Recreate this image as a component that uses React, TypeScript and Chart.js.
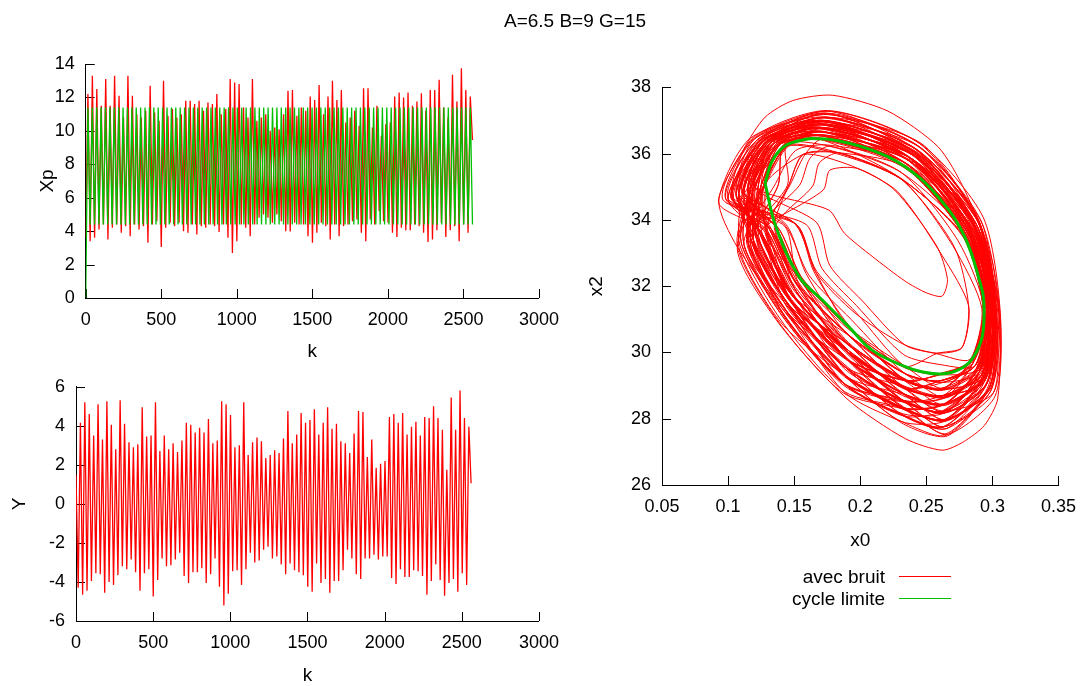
import React, { useEffect, useRef } from 'react';
import { Chart, registerables } from 'chart.js';

Chart.register(...registerables);

// ---------------- DATA ----------------
const TITLE_TEXT = 'A=6.5 B=9 G=15';
const K_LAST = 2560;

// Xp (noisy) : successive minima and maxima of each oscillation
const xpNoisyTroughs = [
  3.6, 3.4, 3.6, 4.1, 4.4, 3.5, 4.2, 4.4, 3.9, 4.3,
  3.7, 4.4, 4.1, 4.3, 3.3, 4.4, 4.6, 3.05, 4.2, 4.5,
  4.3, 4.5, 4.0, 3.9, 4.4, 3.8, 4.3, 4.2, 4.4, 4.3,
  3.95, 4.4, 3.6, 2.7, 3.4, 4.4, 4.2, 3.7, 4.4, 4.8,
  5.0, 4.8, 4.5, 5.0, 4.6, 4.0, 3.98, 4.5, 4.4, 4.4,
  3.7, 3.3, 3.9, 4.5, 4.3, 3.5, 4.4, 3.7, 4.3, 4.4,
  4.6, 4.7, 3.9, 3.4, 4.7, 4.4, 5.2, 4.6, 4.5, 3.9,
  3.65, 4.2, 4.05, 4.05, 4.4, 4.3, 3.9, 3.35, 3.5, 4.05,
  4.5, 3.65, 4.05, 4.3, 3.4, 4.4, 3.9,
];
const xpNoisyPeaks = [
  12.2, 13.3, 12.5, 11.5, 13.1, 11.5, 13.3, 12.1, 10.8, 13.3,
  12.1, 11.0, 10.8, 11.2, 12.7, 11.1, 10.6, 13.0, 10.9, 11.3,
  10.8, 11.0, 11.8, 11.8, 11.6, 11.8, 11.2, 11.7, 11.6, 12.2,
  11.0, 11.3, 13.1, 12.9, 12.8, 11.4, 10.8, 13.1, 10.6, 10.8,
  11.0, 10.0, 10.2, 10.1, 11.0, 12.4, 12.45, 10.9, 11.4, 11.2,
  12.05, 11.85, 12.75, 11.0, 12.05, 13.0, 11.85, 12.45, 10.5, 10.8,
  11.2, 10.3, 12.55, 12.55, 10.2, 11.5, 9.7, 10.4, 10.5, 12.05,
  12.3, 12.0, 12.3, 11.5, 11.75, 12.25, 11.2, 12.45, 12.45, 13.05,
  11.4, 10.8, 13.35, 11.75, 13.75, 12.45, 12.05,
];
const xpNoisyEnd = 9.45;

// Xp (limit cycle)
const xpLimit = [
  0,
  11.4, 4.4, 11.4, 4.4, 11.4, 4.4, 11.4, 4.4, 11.4, 4.4, 11.4, 4.4, 11.4, 4.4, 11.4, 4.4, 11.4, 4.4, 11.4, 4.4,
  11.4, 4.4, 11.4, 4.4, 11.4, 4.4, 11.4, 4.4, 11.4, 4.4, 11.4, 4.4, 11.4, 4.4, 11.4, 4.4, 11.4, 4.4, 11.4, 4.4,
  11.4, 4.4, 11.4, 4.4, 11.4, 4.4, 11.4, 4.4, 11.4, 4.4, 11.4, 4.4, 11.4, 4.4, 11.4, 4.4, 11.4, 4.4, 11.4, 4.4,
  11.4, 4.4, 11.4, 4.4, 11.4, 4.4, 11.4, 4.4, 11.4, 4.4, 11.4, 4.4, 11.4, 4.4, 11.4, 4.4, 11.4, 4.4, 11.4, 4.4,
  11.4, 4.4, 11.4, 4.4, 11.4, 4.4, 11.4, 4.4, 11.4, 4.4, 11.4, 4.4, 11.4, 4.4, 11.4, 4.4, 11.4, 4.4, 11.4, 4.4,
  11.4, 4.4, 11.4, 4.4, 11.4, 4.4, 11.4, 4.4, 11.4, 4.4, 11.4, 4.4, 11.4, 4.4, 11.4, 4.4, 11.4, 4.4, 11.4, 4.4,
  11.4, 4.4, 11.4, 4.4, 11.4, 4.4, 11.4, 4.4, 11.4, 4.4, 11.4, 4.4, 11.4, 4.4, 11.4, 4.4, 11.4, 4.4, 11.4, 4.4,
  11.4, 4.4, 11.4, 4.4, 11.4, 4.4, 11.4, 4.4, 11.4, 4.4, 11.4, 4.4, 11.4, 4.4, 11.4, 4.4, 11.4, 4.4, 11.4, 4.4,
  11.4, 4.4, 11.4, 4.4, 11.4, 4.4, 11.4, 4.4, 11.4, 4.4, 11.4, 4.4, 11.4, 4.4, 11.4, 4.4,
];

// Y (noisy)
const yNoisyStart = 1.5;
const yNoisyTroughs = [
  -4.3, -4.65, -4.45, -3.95, -3.55, -3.6, -4.55, -4.0, -4.15, -3.65,
  -3.2, -3.35, -2.85, -3.5, -4.45, -3.55, -3.35, -4.75, -3.9, -2.8,
  -3.2, -3.15, -2.85, -2.5, -3.7, -4.05, -3.5, -3.5, -3.3, -4.05,
  -3.6, -2.8, -4.25, -5.2, -4.6, -3.45, -3.4, -4.15, -3.35, -2.5,
  -3.0, -2.9, -2.35, -2.2, -2.8, -2.7, -3.1, -3.6, -3.05, -3.4,
  -3.5,
  -3.65, -4.25, -4.5, -3.05, -4.05, -3.85, -4.55, -3.95, -3.95, -3.4,
  -2.35, -2.8, -3.6, -3.85, -2.8, -2.8, -2.6, -2.85, -2.7, -2.7,
  -3.8, -4.1, -3.35, -3.75, -3.75, -3.4, -3.45, -3.7, -4.65, -3.95,
  -3.1, -3.9, -4.7, -4.05, -3.85, -4.5, -3.55, -4.15,
];
const yNoisyPeaks = [
  4.15, 5.2, 4.6, 3.5, 5.1, 3.3, 5.25, 4.05, 2.8, 5.3,
  4.1, 3.15, 2.9, 3.05, 4.95, 3.45, 3.5, 5.2, 2.7, 3.5,
  2.8, 3.1, 2.65, 3.25, 4.15, 4.05, 3.65, 3.9, 3.65, 4.35,
  3.1, 3.25, 5.25, 5.1, 4.55, 2.9, 3.0, 5.2, 2.5, 3.15,
  3.4, 3.2, 2.35, 2.5, 2.75, 2.6, 3.35, 4.75, 3.1, 3.55,
  4.65, 4.15, 4.3, 4.85, 3.55, 4.15, 4.95, 3.85, 4.1, 3.2,
  3.1, 2.6, 3.6, 4.75, 4.7, 2.4, 3.3, 1.85, 2.05, 2.2,
  4.45, 4.6, 4.15, 4.65, 3.55, 3.95, 4.2, 3.5, 4.45, 4.4,
  5.0, 4.4, 3.8, 1.75, 5.45, 3.8, 5.8, 4.4, 3.95,
];
const yNoisyEnd = 1.05;

// phase plane x0 / x2 : noisy trajectory, loop after loop (first part)
const noisyLoopsEarly: number[][][] = [
  [[0.113,34.83],[0.132,36.33],[0.171,36.68],[0.233,35.62],[0.279,33.5],[0.297,31.3],[0.292,29.22],[0.264,27.98],[0.233,28.35],[0.19,29.8],[0.148,31.6],[0.121,33.48]],
  [[0.104,34.72],[0.125,36.41],[0.172,36.86],[0.238,35.77],[0.283,33.62],[0.3,31.24],[0.297,28.99],[0.265,27.55],[0.233,28.3],[0.189,29.31],[0.144,31.27],[0.116,33.37]],
  [[0.121,35.02],[0.139,36.28],[0.169,36.44],[0.231,35.25],[0.278,33.47],[0.293,31.32],[0.288,29.52],[0.263,28.45],[0.233,28.76],[0.19,30.3],[0.151,31.96],[0.13,33.66]],
  [[0.129,35.12],[0.145,36.22],[0.182,36.0],[0.232,35.2],[0.27,33.22],[0.292,31.33],[0.284,29.8],[0.262,28.9],[0.234,29.17],[0.192,30.75],[0.155,32.3],[0.137,33.8]],
  [[0.102,34.7],[0.13,36.36],[0.173,36.9],[0.241,35.96],[0.282,33.66],[0.297,31.27],[0.294,29.22],[0.265,27.94],[0.231,27.92],[0.189,29.27],[0.143,31.23],[0.107,33.18]],
  [[0.093,34.6],[0.117,36.47],[0.175,37.1],[0.24,35.97],[0.287,33.82],[0.301,31.24],[0.299,28.95],[0.264,27.93],[0.232,28.3],[0.187,28.78],[0.139,30.88],[0.107,33.2]],
  [[0.119,35.0],[0.143,36.24],[0.17,36.47],[0.235,35.62],[0.283,33.65],[0.301,31.26],[0.294,29.25],[0.263,28.42],[0.234,29.13],[0.19,30.26],[0.153,32.27],[0.128,33.62]],
  [[0.147,35.06],[0.158,35.96],[0.171,36.43],[0.238,35.8],[0.287,33.79],[0.3,31.27],[0.289,29.49],[0.261,29.33],[0.233,29.6],[0.197,31.2],[0.167,32.45],[0.151,33.86]],
  [[0.111,34.86],[0.124,36.41],[0.173,37.07],[0.243,36.12],[0.285,33.81],[0.301,31.24],[0.292,29.26],[0.264,27.98],[0.232,28.34],[0.191,29.8],[0.146,31.58],[0.123,33.52]],
  [[0.127,35.08],[0.137,36.32],[0.172,36.86],[0.24,35.94],[0.286,33.79],[0.296,31.29],[0.285,29.76],[0.261,29.37],[0.235,29.13],[0.19,30.29],[0.154,32.26],[0.136,33.8]],
  [[0.164,35.02],[0.169,35.72],[0.184,36.02],[0.231,35.24],[0.278,33.5],[0.293,31.31],[0.283,29.79],[0.258,29.96],[0.234,30.22],[0.201,31.58],[0.177,32.62],[0.167,33.92]],
  [[0.12,35.0],[0.139,36.31],[0.171,36.65],[0.24,35.96],[0.286,33.8],[0.303,31.22],[0.298,28.98],[0.266,27.48],[0.231,27.88],[0.189,29.3],[0.147,31.6],[0.122,33.5]],
  [[0.111,34.84],[0.13,36.36],[0.174,37.1],[0.243,36.12],[0.29,33.94],[0.299,31.26],[0.288,29.51],[0.262,28.87],[0.235,29.16],[0.19,30.27],[0.146,31.6],[0.121,33.49]],
  [[0.128,35.1],[0.145,36.26],[0.169,36.45],[0.237,35.79],[0.282,33.65],[0.296,31.29],[0.294,29.23],[0.263,28.44],[0.233,28.75],[0.19,29.78],[0.15,31.95],[0.13,33.65]],
  [[0.103,34.7],[0.126,36.39],[0.174,37.1],[0.246,36.31],[0.289,33.95],[0.302,31.23],[0.293,29.25],[0.263,28.44],[0.234,28.73],[0.189,29.28],[0.144,31.26],[0.115,33.34]],
  [[0.145,35.05],[0.144,36.25],[0.17,36.46],[0.234,35.6],[0.279,33.48],[0.294,31.3],[0.285,29.76],[0.262,28.9],[0.234,29.16],[0.192,30.78],[0.165,32.43],[0.152,33.84]],
  [[0.112,34.86],[0.138,36.3],[0.171,36.67],[0.237,35.78],[0.286,33.81],[0.3,31.25],[0.298,28.96],[0.264,27.97],[0.233,28.73],[0.19,29.8],[0.147,31.58],[0.122,33.51]],
  [[0.119,35.01],[0.132,36.34],[0.172,36.89],[0.24,35.94],[0.282,33.64],[0.297,31.27],[0.289,29.5],[0.263,28.43],[0.233,28.75],[0.19,29.8],[0.15,31.95],[0.129,33.65]],
  [[0.093,34.5],[0.112,36.15],[0.128,37.1],[0.149,37.6],[0.179,37.76],[0.221,37.28],[0.259,36.2],[0.279,34.9],[0.299,32.9],[0.306,31.0],[0.304,28.6],[0.294,27.8],[0.278,27.3],[0.262,27.05],[0.234,27.4],[0.19,28.6],[0.138,30.9],[0.107,33.1]],
  [[0.128,35.12],[0.144,36.27],[0.171,36.66],[0.24,35.95],[0.289,33.94],[0.303,31.22],[0.293,29.24],[0.262,28.9],[0.234,29.58],[0.191,30.76],[0.154,32.29],[0.136,33.78]],
  [[0.112,34.85],[0.131,36.36],[0.172,36.87],[0.237,35.77],[0.279,33.5],[0.293,31.3],[0.284,29.78],[0.262,28.88],[0.234,29.15],[0.189,29.79],[0.147,31.58],[0.122,33.52]],
  [[0.121,35.0],[0.138,36.29],[0.17,36.45],[0.234,35.61],[0.28,33.48],[0.297,31.27],[0.289,29.52],[0.263,28.42],[0.232,28.31],[0.189,29.3],[0.147,31.6],[0.129,33.64]],
  [[0.146,35.05],[0.157,35.97],[0.194,35.62],[0.228,34.86],[0.262,32.92],[0.282,31.41],[0.277,30.15],[0.258,29.97],[0.234,29.58],[0.191,30.78],[0.166,32.45],[0.152,33.85]],
  [[0.103,34.71],[0.125,36.4],[0.172,36.87],[0.24,35.95],[0.286,33.8],[0.3,31.26],[0.293,29.23],[0.264,27.97],[0.233,28.31],[0.189,29.28],[0.144,31.24],[0.115,33.36]],
  [[0.12,35.01],[0.138,36.3],[0.171,36.66],[0.234,35.6],[0.279,33.49],[0.297,31.28],[0.293,29.24],[0.263,28.43],[0.233,28.33],[0.189,29.29],[0.147,31.59],[0.122,33.5]],
  [[0.112,34.85],[0.131,36.35],[0.172,36.88],[0.24,35.95],[0.289,33.95],[0.303,31.23],[0.298,28.97],[0.264,27.96],[0.233,28.74],[0.19,29.79],[0.147,31.59],[0.129,33.64]],
  [[0.127,35.08],[0.145,36.23],[0.169,36.43],[0.233,35.58],[0.281,33.62],[0.296,31.3],[0.288,29.53],[0.261,28.92],[0.235,29.18],[0.191,30.3],[0.155,32.3],[0.137,33.81]],
  [[0.103,34.68],[0.118,36.45],[0.175,37.3],[0.245,36.3],[0.289,33.95],[0.3,31.25],[0.289,29.5],[0.263,28.43],[0.233,28.32],[0.189,29.29],[0.14,30.9],[0.108,33.2]],
  [[0.12,35.0],[0.138,36.3],[0.172,36.88],[0.24,35.95],[0.282,33.64],[0.294,31.3],[0.284,29.77],[0.262,29.35],[0.234,29.15],[0.19,29.79],[0.147,31.59],[0.122,33.5]],
  [[0.112,34.85],[0.131,36.35],[0.171,36.66],[0.237,35.78],[0.286,33.8],[0.303,31.23],[0.298,28.97],[0.265,27.5],[0.232,27.9],[0.188,28.8],[0.144,31.25],[0.115,33.35]],
  [[0.128,35.1],[0.157,35.98],[0.183,36.03],[0.234,35.6],[0.279,33.49],[0.294,31.3],[0.289,29.5],[0.262,28.89],[0.234,29.15],[0.191,30.77],[0.154,32.28],[0.136,33.79]],
  [[0.112,34.85],[0.131,36.35],[0.172,36.88],[0.242,36.13],[0.289,33.95],[0.303,31.23],[0.293,29.24],[0.262,28.89],[0.234,29.15],[0.19,30.28],[0.147,31.59],[0.122,33.5]],
  [[0.172,34.9],[0.177,35.5],[0.198,35.55],[0.226,34.9],[0.258,33.2],[0.266,32.2],[0.262,31.7],[0.25,31.8],[0.234,32.15],[0.209,32.9],[0.188,33.6],[0.176,34.3]],
  [[0.12,35.0],[0.131,36.35],[0.174,37.09],[0.242,36.13],[0.286,33.8],[0.297,31.28],[0.289,29.5],[0.263,28.43],[0.233,28.74],[0.19,29.79],[0.147,31.59],[0.129,33.64]],
  [[0.103,34.7],[0.125,36.4],[0.172,36.88],[0.237,35.78],[0.282,33.64],[0.3,31.25],[0.298,28.97],[0.264,27.96],[0.233,28.32],[0.189,29.29],[0.144,31.25],[0.115,33.35]],
  [[0.128,35.1],[0.144,36.25],[0.171,36.66],[0.237,35.78],[0.282,33.64],[0.3,31.25],[0.293,29.24],[0.263,28.43],[0.233,28.74],[0.19,30.28],[0.15,31.94],[0.136,33.79]],
  [[0.11,34.87],[0.13,36.37],[0.173,36.9],[0.241,35.93],[0.287,33.78],[0.301,31.24],[0.294,29.21],[0.264,28.4],[0.232,28.7],[0.191,29.76],[0.148,31.56],[0.121,33.48]],
  [[0.119,35.02],[0.137,36.31],[0.172,36.64],[0.238,35.76],[0.283,33.66],[0.298,31.27],[0.29,29.48],[0.263,28.86],[0.235,29.12],[0.19,30.25],[0.149,31.92],[0.128,33.62]],
  [[0.102,34.72],[0.124,36.42],[0.175,37.08],[0.243,36.11],[0.29,33.93],[0.304,31.22],[0.299,28.95],[0.265,27.93],[0.232,28.29],[0.188,29.27],[0.143,31.22],[0.114,33.33]],
  [[0.129,35.11],[0.146,36.24],[0.172,36.44],[0.235,35.58],[0.28,33.47],[0.295,31.29],[0.285,29.75],[0.262,29.33],[0.233,29.55],[0.19,30.74],[0.153,32.25],[0.135,33.77]],
  [[0.146,35.05],[0.157,35.98],[0.183,36.03],[0.231,35.23],[0.271,33.2],[0.282,31.4],[0.277,30.14],[0.258,29.98],[0.233,30.24],[0.196,31.19],[0.166,32.44],[0.152,33.85]],
  [[0.096,34.62],[0.119,36.44],[0.176,37.28],[0.246,36.28],[0.293,34.08],[0.306,31.18],[0.302,28.68],[0.265,27.52],[0.233,28.3],[0.188,28.82],[0.141,30.92],[0.109,33.22]],
  [[0.111,34.86],[0.124,36.4],[0.175,37.28],[0.242,36.12],[0.286,33.8],[0.297,31.28],[0.284,29.77],[0.262,29.35],[0.234,29.15],[0.19,29.79],[0.144,31.25],[0.115,33.35]],
  [[0.12,35.0],[0.144,36.25],[0.183,36.03],[0.231,35.23],[0.279,33.49],[0.297,31.28],[0.293,29.24],[0.264,27.96],[0.233,28.32],[0.19,29.79],[0.15,31.94],[0.129,33.64]],
];

// phase plane x0 / x2 : noisy trajectory (second part)
const noisyLoopsLate: number[][][] = [
  [[0.125,35.06],[0.135,36.31],[0.172,36.79],[0.240,36.02],[0.288,33.85],[0.299,31.27],[0.287,29.6],[0.261,29.15],[0.234,28.92],[0.191,30.06],[0.151,32.09],[0.131,33.74]],
  [[0.115,34.9],[0.129,36.4],[0.172,36.96],[0.237,35.88],[0.282,33.53],[0.294,31.3],[0.290,29.4],[0.264,28.17],[0.232,28.56],[0.188,29.51],[0.149,31.8],[0.126,33.55]],
  [[0.106,34.8],[0.127,36.36],[0.175,37.22],[0.245,36.2],[0.286,33.9],[0.297,31.28],[0.292,29.34],[0.262,28.23],[0.233,28.08],[0.187,29.08],[0.146,31.4],[0.119,33.45]],
  [[0.138,35.06],[0.142,36.26],[0.169,36.57],[0.239,35.84],[0.283,33.7],[0.299,31.25],[0.296,29.07],[0.264,28.18],[0.232,28.97],[0.192,30.5],[0.153,32.13],[0.143,33.8]],
  [[0.098,34.66],[0.12,36.44],[0.172,37.0],[0.242,36.02],[0.285,33.74],[0.297,31.27],[0.294,29.13],[0.263,27.75],[0.231,28.14],[0.187,29.02],[0.141,31.1],[0.11,33.3]],
  [[0.117,34.94],[0.135,36.31],[0.17,36.79],[0.239,35.84],[0.288,33.85],[0.302,31.22],[0.296,29.08],[0.262,28.22],[0.234,28.5],[0.191,30.0],[0.149,31.75],[0.124,33.59]],
  [[0.123,35.07],[0.14,36.3],[0.177,36.22],[0.231,35.43],[0.28,33.58],[0.294,31.31],[0.285,29.66],[0.262,28.69],[0.234,28.92],[0.192,30.49],[0.151,32.14],[0.133,33.7]],
  [[0.108,34.76],[0.127,36.39],[0.174,36.96],[0.237,35.88],[0.285,33.7],[0.299,31.25],[0.292,29.35],[0.264,28.22],[0.232,28.51],[0.19,29.57],[0.146,31.4],[0.117,33.45]],
  [[0.115,34.94],[0.133,36.35],[0.171,36.53],[0.236,35.67],[0.285,33.74],[0.302,31.22],[0.301,28.8],[0.263,27.76],[0.234,28.5],[0.189,30.06],[0.149,31.75],[0.126,33.55]],
  [[0.1,34.63],[0.127,36.4],[0.17,36.79],[0.239,35.84],[0.286,33.89],[0.305,31.19],[0.299,28.86],[0.265,27.7],[0.233,28.08],[0.19,29.51],[0.144,31.44],[0.112,33.26]],
  [[0.136,35.1],[0.151,36.09],[0.175,36.26],[0.234,35.71],[0.282,33.54],[0.296,31.27],[0.287,29.6],[0.261,29.15],[0.235,29.33],[0.193,31.0],[0.161,32.34],[0.143,33.84]],
  [[0.108,34.8],[0.122,36.41],[0.173,37.22],[0.24,36.06],[0.283,33.74],[0.294,31.31],[0.285,29.66],[0.264,28.63],[0.232,28.56],[0.19,29.51],[0.146,31.44],[0.119,33.41]],
  [[0.125,35.03],[0.142,36.26],[0.172,36.75],[0.237,35.88],[0.285,33.7],[0.299,31.24],[0.29,29.4],[0.262,28.69],[0.234,28.92],[0.189,30.06],[0.151,32.13],[0.133,33.7]],
  [[0.117,34.9],[0.129,36.36],[0.174,37.0],[0.242,36.02],[0.291,34.0],[0.305,31.19],[0.301,28.8],[0.262,28.23],[0.232,28.97],[0.191,30.0],[0.147,31.79],[0.124,33.59]],
  [[0.108,34.76],[0.127,36.4],[0.17,36.79],[0.236,35.67],[0.282,33.54],[0.297,31.28],[0.292,29.34],[0.262,28.69],[0.234,28.5],[0.189,29.02],[0.143,31.1],[0.117,33.45]],
  [[0.154,35.04],[0.162,35.86],[0.177,36.22],[0.231,35.43],[0.274,33.37],[0.294,31.31],[0.287,29.6],[0.261,29.63],[0.233,29.93],[0.197,31.42],[0.171,32.54],[0.159,33.86]],
  [[0.1,34.63],[0.122,36.41],[0.175,37.18],[0.243,36.24],[0.289,34.05],[0.302,31.22],[0.296,29.07],[0.264,28.18],[0.232,28.56],[0.189,29.02],[0.143,31.1],[0.112,33.26]],
  [[0.117,34.94],[0.133,36.35],[0.17,36.75],[0.234,35.71],[0.282,33.58],[0.296,31.27],[0.292,29.34],[0.262,28.63],[0.234,28.97],[0.191,30.0],[0.149,31.75],[0.124,33.59]],
  [[0.106,34.8],[0.135,36.31],[0.172,36.79],[0.239,35.84],[0.283,33.74],[0.3,31.26],[0.296,29.13],[0.263,27.76],[0.231,28.14],[0.19,29.51],[0.146,31.4],[0.119,33.41]],
  [[0.123,35.07],[0.133,36.35],[0.174,36.96],[0.242,36.02],[0.286,33.89],[0.302,31.22],[0.29,29.4],[0.264,28.63],[0.235,29.33],[0.192,30.5],[0.151,32.13],[0.131,33.74]],
  [[0.115,34.9],[0.135,36.31],[0.17,36.79],[0.242,36.06],[0.288,33.85],[0.305,31.19],[0.294,29.13],[0.262,28.69],[0.232,28.92],[0.191,30.06],[0.147,31.79],[0.126,33.55]],
  [[0.108,34.76],[0.129,36.36],[0.172,37.0],[0.24,36.02],[0.283,33.7],[0.297,31.28],[0.287,29.6],[0.263,29.1],[0.234,28.92],[0.189,30.06],[0.146,31.44],[0.117,33.45]],
  [[0.125,35.03],[0.14,36.3],[0.171,36.53],[0.236,35.67],[0.28,33.58],[0.299,31.24],[0.29,29.4],[0.264,28.63],[0.232,28.97],[0.19,30.0],[0.153,32.09],[0.131,33.74]],
  [[0.098,34.66],[0.122,36.41],[0.172,37.0],[0.237,35.88],[0.283,33.74],[0.299,31.25],[0.292,29.35],[0.262,28.22],[0.234,28.5],[0.187,29.08],[0.141,31.1],[0.112,33.26]],
  [[0.117,34.94],[0.14,36.3],[0.171,36.57],[0.239,35.84],[0.288,33.85],[0.302,31.22],[0.294,29.13],[0.262,28.69],[0.234,28.92],[0.191,30.06],[0.149,31.75],[0.124,33.59]],
  [[0.106,34.8],[0.129,36.36],[0.173,37.22],[0.242,36.02],[0.286,33.89],[0.299,31.25],[0.29,29.4],[0.264,28.18],[0.232,28.56],[0.188,29.57],[0.144,31.44],[0.119,33.41]],
  [[0.138,35.06],[0.142,36.26],[0.171,36.53],[0.234,35.71],[0.28,33.54],[0.296,31.27],[0.285,29.66],[0.263,29.1],[0.233,29.38],[0.19,30.55],[0.159,32.38],[0.145,33.8]],
  [[0.115,34.94],[0.133,36.35],[0.172,36.75],[0.237,35.88],[0.285,33.7],[0.3,31.26],[0.296,29.08],[0.265,27.7],[0.233,28.08],[0.189,29.02],[0.146,31.4],[0.117,33.45]],
  [[0.108,34.76],[0.127,36.39],[0.172,37.0],[0.239,35.84],[0.282,33.54],[0.294,31.31],[0.287,29.6],[0.261,29.15],[0.234,28.92],[0.189,30.06],[0.147,31.79],[0.119,33.41]],
  [[0.125,35.03],[0.14,36.3],[0.17,36.79],[0.237,35.88],[0.286,33.89],[0.302,31.22],[0.294,29.13],[0.262,28.22],[0.234,28.5],[0.191,30.0],[0.151,32.13],[0.133,33.7]],
  [[0.1,34.63],[0.127,36.4],[0.174,36.96],[0.242,36.06],[0.288,33.85],[0.3,31.26],[0.296,29.07],[0.263,27.76],[0.233,28.08],[0.189,29.02],[0.143,31.06],[0.11,33.3]],
  [[0.117,34.9],[0.135,36.31],[0.172,36.96],[0.243,36.24],[0.291,34.0],[0.302,31.22],[0.29,29.4],[0.263,29.1],[0.233,29.38],[0.19,30.55],[0.147,31.79],[0.126,33.55]],
  [[0.123,35.07],[0.133,36.35],[0.172,36.75],[0.239,35.84],[0.283,33.74],[0.297,31.28],[0.285,29.66],[0.261,29.15],[0.235,29.33],[0.192,30.5],[0.151,32.13],[0.131,33.74]],
  [[0.108,34.8],[0.129,36.36],[0.172,37.0],[0.24,36.06],[0.288,33.85],[0.303,31.22],[0.299,28.86],[0.263,27.75],[0.234,28.5],[0.19,29.51],[0.146,31.44],[0.117,33.45]],
  [[0.117,34.94],[0.135,36.31],[0.169,36.57],[0.236,35.67],[0.282,33.54],[0.294,31.31],[0.29,29.4],[0.264,28.63],[0.232,28.56],[0.188,29.57],[0.144,31.4],[0.126,33.55]],
  [[0.106,34.8],[0.12,36.44],[0.175,37.18],[0.245,36.2],[0.289,34.05],[0.3,31.26],[0.294,29.13],[0.262,28.69],[0.234,28.92],[0.191,30.06],[0.146,31.44],[0.117,33.45]],
  [[0.125,35.03],[0.142,36.26],[0.171,36.57],[0.237,35.88],[0.285,33.7],[0.302,31.22],[0.296,29.08],[0.264,28.18],[0.232,28.56],[0.189,30.0],[0.149,31.75],[0.124,33.59]],
  [[0.115,34.94],[0.127,36.39],[0.174,36.96],[0.239,35.84],[0.283,33.74],[0.299,31.25],[0.292,29.35],[0.262,28.69],[0.234,28.97],[0.188,29.57],[0.146,31.4],[0.119,33.41]],
  [[0.108,34.76],[0.129,36.36],[0.17,36.79],[0.237,35.88],[0.28,33.58],[0.296,31.27],[0.29,29.4],[0.264,28.18],[0.233,28.14],[0.189,29.02],[0.143,31.06],[0.117,33.45]],
  [[0.116,34.92],[0.134,36.33],[0.171,36.77],[0.238,35.86],[0.284,33.72],[0.298,31.26],[0.291,29.37],[0.263,28.66],[0.233,28.95],[0.19,30.03],[0.148,31.77],[0.125,33.57]],
];

// phase plane : limit cycle
const limitX0 = [0.128, 0.1337, 0.1438, 0.1588, 0.1663, 0.1838, 0.209, 0.234, 0.259, 0.279, 0.2916, 0.2934, 0.2936, 0.2916, 0.284, 0.274, 0.2615, 0.2465, 0.234, 0.2089, 0.1914, 0.1713, 0.1538, 0.1362, 0.128];
const limitX2 = [35.1, 35.8, 36.25, 36.43, 36.45, 36.38, 36.1, 35.6, 34.69, 33.49, 31.98, 31.58, 30.97, 30.37, 29.77, 29.47, 29.35, 29.42, 29.57, 30.07, 30.77, 31.58, 32.28, 33.79, 35.1];

const legendLabels = ['avec bruit', 'cycle limite'];

// ---------------- STYLE ----------------
const FONT = '"Liberation Sans", Arial, Helvetica, sans-serif';
const RED = '#ff0000';
const GREEN = '#00c000';
const TICK_SIZE = 18;
const TITLE_SIZE = 19;
const TITLE_LH = TITLE_SIZE * 1.2;

function interleave(start: number | null, lows: number[], highs: number[], end: number | null) {
  const v: number[] = [];
  if (start !== null) v.push(start);
  for (let i = 0; i < lows.length; i++) { v.push(lows[i]); v.push(highs[i]); }
  if (end !== null) v.push(end);
  return v;
}
function overK(values: number[]) {
  const step = K_LAST / (values.length - 1);
  return values.map((y, i) => ({ x: i * step, y }));
}

const inwardTicks = {
  id: 'inwardTicks',
  beforeDatasetsDraw(chart: any) {
    const { ctx, chartArea, scales } = chart;
    const xs = scales.x, ys = scales.y;
    ctx.save();
    ctx.strokeStyle = '#000';
    ctx.lineWidth = 1;
    ctx.beginPath();
    xs.ticks.forEach((t: any) => {
      const px = Math.round(xs.getPixelForValue(t.value)) + 0.5;
      ctx.moveTo(px, chartArea.bottom);
      ctx.lineTo(px, chartArea.bottom - 9);
    });
    ys.ticks.forEach((t: any) => {
      const py = Math.round(ys.getPixelForValue(t.value)) + 0.5;
      ctx.moveTo(chartArea.left, py);
      ctx.lineTo(chartArea.left + 9, py);
    });
    ctx.stroke();
    ctx.restore();
  },
};

type Box = { left: number; top: number; width: number; height: number; area: { l: number; t: number; r: number; b: number }; yTitleX: number; xTitleY: number };

const BOX_XP: Box = { left: 0, top: 30, width: 570, height: 340, area: { l: 85.7, t: 64, r: 542.7, b: 298 }, yTitleX: 48, xTitleY: 352 };
const BOX_Y: Box = { left: 0, top: 360, width: 570, height: 330, area: { l: 76, t: 386.7, r: 542.7, b: 621 }, yTitleX: 20, xTitleY: 676 };
const BOX_PH: Box = { left: 570, top: 40, width: 517, height: 530, area: { l: 662, t: 87.3, r: 1061, b: 485 }, yTitleX: 597, xTitleY: 541 };

function axis(min: number, max: number, step: number, title: string, fmt: (v: number) => string) {
  return {
    type: 'linear',
    min, max,
    ticks: { stepSize: step, autoSkip: false, maxRotation: 0, padding: 11, color: '#000', font: { family: FONT, size: TICK_SIZE }, callback: (v: any) => fmt(Number(v)) },
    grid: { display: false, drawTicks: false },
    border: { display: true, color: '#000', width: 1 },
    title: { display: true, text: title, color: '#000', padding: 0, font: { family: FONT, size: TITLE_SIZE, lineHeight: 1.2 } },
  };
}

function makeChart(canvas: HTMLCanvasElement, box: Box, xAx: any, yAx: any, datasets: any[]) {
  const padLeft = box.yTitleX - TITLE_LH / 2 - box.left;
  const yWidth = box.area.l - box.left - padLeft;
  const padTop = box.area.t - box.top;
  const padRight = box.left + box.width - box.area.r;
  const xHeight = box.xTitleY + TITLE_LH / 2 - box.area.b;
  const padBottom = box.top + box.height - box.area.b - xHeight;
  return new Chart(canvas, {
    type: 'scatter',
    data: { datasets },
    options: {
      responsive: false,
      animation: false,
      devicePixelRatio: 1,
      events: [],
      layout: { padding: { left: padLeft, right: padRight, top: padTop, bottom: padBottom } },
      plugins: { legend: { display: false }, tooltip: { enabled: false }, title: { display: false } },
      scales: {
        x: { ...xAx, afterFit: (s: any) => { s.height = xHeight; } },
        y: { ...yAx, afterFit: (s: any) => { s.width = yWidth; } },
      },
    } as any,
    plugins: [inwardTicks],
  });
}

const intFmt = (v: number) => String(Math.round(v));
const decFmt = (v: number) => String(Math.round(v * 100) / 100);

function line(data: any[], color: string, width: number, tension = 0) {
  return { data, borderColor: color, backgroundColor: color, borderWidth: width, pointRadius: 0, showLine: true, tension, fill: false };
}

export default function App() {
  const r1 = useRef<HTMLCanvasElement>(null);
  const r2 = useRef<HTMLCanvasElement>(null);
  const r3 = useRef<HTMLCanvasElement>(null);

  useEffect(() => {
    const xpRed = overK(interleave(null, xpNoisyTroughs, xpNoisyPeaks, xpNoisyEnd));
    const xpGreen = overK(xpLimit);
    const yRed = overK(interleave(yNoisyStart, yNoisyTroughs, yNoisyPeaks, yNoisyEnd));
    const phaseRed = noisyLoopsEarly.concat(noisyLoopsLate).flat().map(([x, y]) => ({ x, y }));
    const phaseGreen = limitX0.map((x, i) => ({ x, y: limitX2[i] }));

    const c1 = makeChart(r1.current!, BOX_XP,
      axis(0, 3000, 500, 'k', intFmt), axis(0, 14, 2, 'Xp', intFmt),
      [line(xpGreen, GREEN, 1.3), line(xpRed, RED, 1.3)]);
    const c2 = makeChart(r2.current!, BOX_Y,
      axis(0, 3000, 500, 'k', intFmt), axis(-6, 6, 2, 'Y', intFmt),
      [line(yRed, RED, 1.3)]);
    const c3 = makeChart(r3.current!, BOX_PH,
      axis(0.05, 0.35, 0.05, 'x0', decFmt), axis(26, 38, 2, 'x2', intFmt),
      [line(phaseGreen, GREEN, 3, 0.4), line(phaseRed, RED, 1, 0.25)]);
    return () => { c1.destroy(); c2.destroy(); c3.destroy(); };
  }, []);

  const cv = (b: Box): React.CSSProperties => ({ position: 'absolute', left: b.left, top: b.top, width: b.width, height: b.height, display: 'block' });
  const txt: React.CSSProperties = { position: 'absolute', fontFamily: FONT, fontSize: TITLE_SIZE, color: '#000', whiteSpace: 'nowrap', lineHeight: 1 };

  return (
    <div style={{ position: 'absolute', left: 0, top: 0, width: 1087, height: 686, overflow: 'hidden', background: '#fff' }}>
      <canvas ref={r1} width={BOX_XP.width} height={BOX_XP.height} style={cv(BOX_XP)} />
      <canvas ref={r2} width={BOX_Y.width} height={BOX_Y.height} style={cv(BOX_Y)} />
      <canvas ref={r3} width={BOX_PH.width} height={BOX_PH.height} style={cv(BOX_PH)} />
      <div style={{ ...txt, left: 575, top: 20, transform: 'translate(-50%, -50%)' }}>{TITLE_TEXT}</div>
      <div style={{ ...txt, left: 600, width: 285, top: 576, transform: 'translateY(-50%)', textAlign: 'right' }}>{legendLabels[0]}</div>
      <div style={{ ...txt, left: 600, width: 285, top: 598, transform: 'translateY(-50%)', textAlign: 'right' }}>{legendLabels[1]}</div>
      <div style={{ position: 'absolute', left: 899, width: 52, top: 576, height: 0, borderTop: `1px solid ${RED}` }} />
      <div style={{ position: 'absolute', left: 899, width: 52, top: 598, height: 0, borderTop: `1.5px solid ${GREEN}` }} />
    </div>
  );
}
